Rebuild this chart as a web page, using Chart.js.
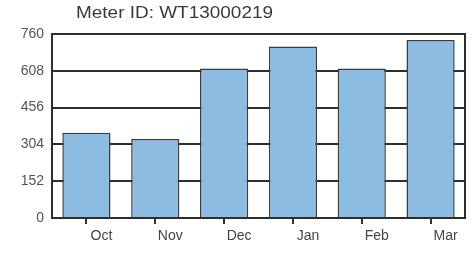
<!DOCTYPE html>
<html><head><meta charset="utf-8">
<script src="https://cdn.jsdelivr.net/npm/chart.js@4"></script>
<style>html,body{margin:0;padding:0;background:#fff;}#wrap{width:472px;height:254px;position:relative;}</style>
</head><body><div id="wrap"><canvas id="c" width="472" height="254"></canvas></div>
<script>
const titleText = "Meter ID: WT13000219";
const months = ["Oct", "Nov", "Dec", "Jan", "Feb", "Mar"];
const usage = [352, 326, 618, 708, 618, 735];
const yTicks = [0, 152, 304, 456, 608, 760];

const framePlugin = {
  id: 'frame',
  afterDatasetsDraw(chart) {
    const {ctx, chartArea: a} = chart;
    ctx.save();
    ctx.strokeStyle = '#2e2e2e';
    ctx.lineWidth = 2;
    ctx.strokeRect(a.left, a.top, a.right - a.left, a.bottom - a.top);
    ctx.restore();
  },
  afterDraw(chart) {
    const ctx = chart.ctx;
    ctx.save();
    ctx.fillStyle = '#3a3a3a';
    ctx.font = '16px "Liberation Sans", Arial, sans-serif';
    ctx.textBaseline = 'middle';
    ctx.textAlign = 'left';
    const w = ctx.measureText(titleText).width;
    const sx = 197 / w;
    ctx.translate(76, 14);
    ctx.scale(sx, 1);
    ctx.fillText(titleText, 0, 0);
    ctx.restore();
  }
};

new Chart(document.getElementById('c'), {
  type: 'bar',
  data: {
    labels: months,
    datasets: [{
      data: usage,
      backgroundColor: '#8dbce2',
      borderColor: '#3c3c3c',
      borderWidth: 1.5,
      barPercentage: 0.7,
      categoryPercentage: 1.0
    }]
  },
  options: {
    responsive: false,
    animation: false,
    devicePixelRatio: 1,
    layout: { padding: { left: 0, right: 7, top: 34, bottom: 0 } },
    plugins: { legend: { display: false }, tooltip: { enabled: false }, title: { display: false } },
    scales: {
      x: {
        grid: { offset: false, drawOnChartArea: false, color: '#333', lineWidth: 2, tickLength: 6 },
        border: { color: '#2e2e2e', width: 2 },
        ticks: { color: '#444', font: { size: 14, family: '"Liberation Sans", Arial, sans-serif' }, labelOffset: 15, padding: 4, maxRotation: 0 },
        afterFit(s) { s.height = 36; }
      },
      y: {
        min: 0, max: 760,
        afterBuildTicks(s) { s.ticks = yTicks.map(v => ({ value: v })); },
        grid: { color: '#2e2e2e', lineWidth: 2, drawTicks: false },
        border: { color: '#2e2e2e', width: 2 },
        ticks: { color: '#555', font: { size: 14, family: '"Liberation Sans", Arial, sans-serif' }, padding: 8 },
        afterFit(s) { s.width = 52; }
      }
    }
  },
  plugins: [framePlugin]
});
</script>
</body></html>
